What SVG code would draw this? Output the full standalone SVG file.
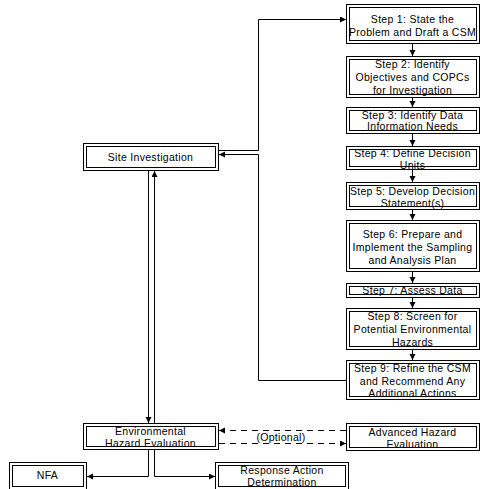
<svg xmlns="http://www.w3.org/2000/svg" width="480" height="489" viewBox="0 0 480 489">
<defs>
<marker id="ah" markerUnits="userSpaceOnUse" markerWidth="7" markerHeight="7" refX="6" refY="3" orient="auto">
<path d="M0,0 L6,3 L0,6 z" fill="#000" stroke="none"/>
</marker>
</defs>
<style>
.o{fill:#fff;stroke:#000;stroke-width:1}
.i{fill:none;stroke:#000;stroke-width:1}
text{font-family:"Liberation Sans",Arial,sans-serif;font-size:10.5px;letter-spacing:0.3px;fill:#000;text-anchor:middle}
.c{fill:none;stroke:#000;stroke-width:1;marker-end:url(#ah)}
.d{stroke-dasharray:6,5}
</style>
<rect width="480" height="489" fill="#fff"/>
<g id="connectors">
<path class="c" d="M219,150.5 H258.5 V19.5 H346"/>
<path class="c" d="M346,380.5 H258.5 V154.5 H219"/>
<path class="c" d="M412.5,44 V56"/>
<path class="c" d="M412.5,98 V107"/>
<path class="c" d="M412.5,134 V146"/>
<path class="c" d="M412.5,170 V182"/>
<path class="c" d="M412.5,210 V220"/>
<path class="c" d="M412.5,272 V283"/>
<path class="c" d="M412.5,298 V308"/>
<path class="c" d="M412.5,350 V360"/>
<path class="c" d="M148.5,171 V423"/>
<path class="c" d="M154.5,423 V171"/>
<path class="c" d="M148.5,450 V476.5 H87"/>
<path class="c" d="M154.5,450 V476.5 H215"/>
<path class="c d" d="M346,430.5 H219"/>
<path class="c d" d="M219,443.5 H346"/>
<text x="281" y="441">(Optional)</text>
</g>
<g id="step1">
<rect class="o" x="346.5" y="4.5" width="133" height="39"/>
<rect class="i" x="349.5" y="7.5" width="127" height="33"/>
<text x="412.5" y="23">Step 1:  State the</text>
<text x="412.5" y="36">Problem and Draft a CSM</text>
</g>
<g id="step2">
<rect class="o" x="346.5" y="56.5" width="133" height="41"/>
<rect class="i" x="349.5" y="59.5" width="127" height="35"/>
<text x="412.5" y="68">Step 2:  Identify</text>
<text x="412.5" y="81">Objectives and COPCs</text>
<text x="412.5" y="94">for Investigation</text>
</g>
<g id="step3">
<rect class="o" x="346.5" y="107.5" width="133" height="26"/>
<rect class="i" x="349.5" y="110.5" width="127" height="20"/>
<text x="412.5" y="119">Step 3:  Identify Data</text>
<text x="412.5" y="130">Information Needs</text>
</g>
<g id="step4">
<rect class="o" x="346.5" y="146.5" width="133" height="23"/>
<rect class="i" x="349.5" y="149.5" width="127" height="17"/>
<text x="412.5" y="157">Step 4:  Define Decision</text>
<text x="412.5" y="168.5">Units</text>
</g>
<g id="step5">
<rect class="o" x="346.5" y="182.5" width="133" height="27"/>
<rect class="i" x="349.5" y="185.5" width="127" height="21"/>
<text x="412.5" y="195">Step 5:  Develop Decision</text>
<text x="412.5" y="207">Statement(s)</text>
</g>
<g id="step6">
<rect class="o" x="346.5" y="220.5" width="133" height="51"/>
<rect class="i" x="349.5" y="223.5" width="127" height="45"/>
<text x="412.5" y="238">Step 6:  Prepare and</text>
<text x="412.5" y="251">Implement the Sampling</text>
<text x="412.5" y="264">and Analysis Plan</text>
</g>
<g id="step7">
<rect class="o" x="346.5" y="283.5" width="133" height="14"/>
<rect class="i" x="349.5" y="286.5" width="127" height="8"/>
<text x="412.5" y="294">Step 7:  Assess Data</text>
</g>
<g id="step8">
<rect class="o" x="346.5" y="308.5" width="133" height="41"/>
<rect class="i" x="349.5" y="311.5" width="127" height="35"/>
<text x="412.5" y="320">Step 8:  Screen for</text>
<text x="412.5" y="333">Potential Environmental</text>
<text x="412.5" y="346">Hazards</text>
</g>
<g id="step9">
<rect class="o" x="346.5" y="360.5" width="133" height="39"/>
<rect class="i" x="349.5" y="363.5" width="127" height="33"/>
<text x="412.5" y="372">Step 9:  Refine the CSM</text>
<text x="412.5" y="385">and Recommend Any</text>
<text x="412.5" y="397">Additional Actions</text>
</g>
<g id="advanced">
<rect class="o" x="346.5" y="423.5" width="133" height="27"/>
<rect class="i" x="349.5" y="426.5" width="127" height="21"/>
<text x="412.5" y="436">Advanced Hazard</text>
<text x="412.5" y="448">Evaluation</text>
</g>
<g id="site">
<rect class="o" x="83.5" y="143.5" width="135" height="27"/>
<rect class="i" x="86.5" y="146.5" width="129" height="21"/>
<text x="150.5" y="161">Site Investigation</text>
</g>
<g id="env">
<rect class="o" x="83.5" y="423.5" width="135" height="26"/>
<rect class="i" x="86.5" y="426.5" width="129" height="20"/>
<text x="150.5" y="435">Environmental</text>
<text x="150.5" y="447">Hazard Evaluation</text>
</g>
<g id="nfa">
<rect class="o" x="9.5" y="462.5" width="77" height="27"/>
<rect class="i" x="12.5" y="465.5" width="71" height="21"/>
<text x="47.5" y="479">NFA</text>
</g>
<g id="response">
<rect class="o" x="215.5" y="462.5" width="133" height="27"/>
<rect class="i" x="218.5" y="465.5" width="127" height="21"/>
<text x="282" y="474">Response Action</text>
<text x="282" y="486">Determination</text>
</g>
</svg>
